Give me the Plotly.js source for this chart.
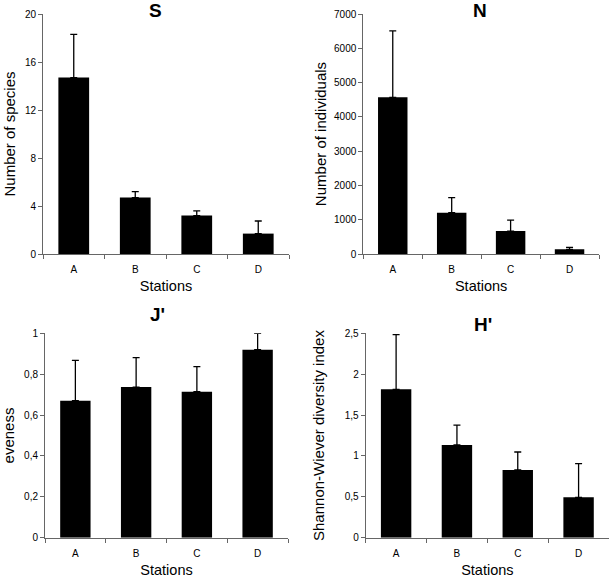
<!DOCTYPE html>
<html>
<head>
<meta charset="utf-8">
<script src="https://cdn.plot.ly/plotly-3.0.1.min.js"></script>
<style>html,body{margin:0;padding:0;background:#fff}#chart{width:610px;height:578px}</style>
</head>
<body>
<div id="chart"></div>
<script>
// ---- data ----
const stations = ['A', 'B', 'C', 'D'];

const S_mean = [14.7, 4.7, 3.2, 1.7];
const S_err  = [3.6, 0.5, 0.4, 1.05];

const N_mean = [4570, 1205, 670, 135];
const N_err  = [1935, 440, 320, 60];

const J_mean = [0.67, 0.737, 0.714, 0.92];
const J_err  = [0.198, 0.144, 0.123, 0.08];

const H_mean = [1.815, 1.134, 0.828, 0.494];
const H_err  = [0.668, 0.244, 0.22, 0.411];

const noLower = [0, 0, 0, 0];

const panelTitles = ['S', 'N', "J'", "H'"];
const yTitles = ['Number of species', 'Number of individuals', 'eveness', 'Shannon-Wiever diversity index'];
const xTitle = 'Stations';

// ---- drawing ----
const FONT = 'Liberation Sans, Arial, Helvetica, sans-serif';
const AX = '#666';

function barTrace(y, err, xa, ya) {
  return {
    type: 'bar', x: stations, y: y, xaxis: xa, yaxis: ya,
    width: 0.5,
    marker: { color: '#000', line: { width: 0 } },
    error_y: { type: 'data', symmetric: false, array: err, arrayminus: noLower,
               color: '#000', thickness: 1.3, width: 3.5 },
    hoverinfo: 'x+y', showlegend: false
  };
}

function xAxis(domain, anchor, standoff) {
  return {
    domain: domain, anchor: anchor, type: 'category', range: [-0.5, 3.5],
    tickson: 'boundaries', ticks: 'outside', ticklen: 4, tickcolor: AX, tickwidth: 1,
    showline: true, linecolor: AX, linewidth: 1, showgrid: false, zeroline: false,
    tickfont: { family: FONT, size: 10, color: '#000' }, ticklabelstandoff: 6,
    title: { text: xTitle, font: { family: FONT, size: 14.5, color: '#000' }, standoff: standoff },
    automargin: false, fixedrange: true
  };
}

function yAxis(domain, anchor, range, dtick, title, standoff) {
  return {
    domain: domain, anchor: anchor, range: range, dtick: dtick, tick0: 0,
    ticks: 'outside', ticklen: 4, tickcolor: AX, tickwidth: 1,
    showline: true, linecolor: AX, linewidth: 1, showgrid: false, zeroline: false,
    tickfont: { family: FONT, size: 10, color: '#000' },
    title: { text: title, font: { family: FONT, size: 15, color: '#000' }, standoff: standoff },
    automargin: false, fixedrange: true
  };
}

const W = 610, H = 578;
const px = (a, b) => [a / W, b / W];
const py = (top, bottom) => [1 - bottom / H, 1 - top / H];

const traces = [
  barTrace(S_mean, S_err, 'x', 'y'),
  barTrace(N_mean, N_err, 'x2', 'y2'),
  barTrace(J_mean, J_err, 'x3', 'y3'),
  barTrace(H_mean, H_err, 'x4', 'y4')
];

const titleFont = { family: FONT, size: 19, color: '#000' };
function panelTitle(text, xPix, yPix) {
  return { text: '<b>' + text + '</b>', xref: 'paper', yref: 'paper',
           x: xPix / W, y: 1 - yPix / H, xanchor: 'center', yanchor: 'middle',
           showarrow: false, font: titleFont };
}

const layout = {
  width: W, height: H,
  margin: { l: 0, r: 0, t: 0, b: 0 },
  paper_bgcolor: '#fff', plot_bgcolor: '#fff',
  separators: ', ',
  bargap: 0.5,
  font: { family: FONT, color: '#000' },
  xaxis:  xAxis(px(43, 289), 'y', 6),
  yaxis:  yAxis(py(14, 254), 'x', [0, 20], 4, yTitles[0], 5),
  xaxis2: xAxis(px(363.3, 599), 'y2', 6),
  yaxis2: yAxis(py(14, 254), 'x2', [0, 7000], 1000, yTitles[1], 3),
  xaxis3: xAxis(px(45, 288), 'y3', 8),
  yaxis3: yAxis(py(333.3, 537.7), 'x3', [0, 1], 0.2, yTitles[2], 19),
  xaxis4: xAxis(px(365.7, 609), 'y4', 8),
  yaxis4: yAxis(py(333.3, 537.7), 'x4', [0, 2.5], 0.5, yTitles[3], 16),
  annotations: [
    panelTitle(panelTitles[0], 155, 11),
    panelTitle(panelTitles[1], 480, 11),
    panelTitle(panelTitles[2], 157, 314),
    panelTitle(panelTitles[3], 483, 324)
  ]
};

Plotly.newPlot('chart', traces, layout, { displayModeBar: false, staticPlot: true });
</script>
</body>
</html>
